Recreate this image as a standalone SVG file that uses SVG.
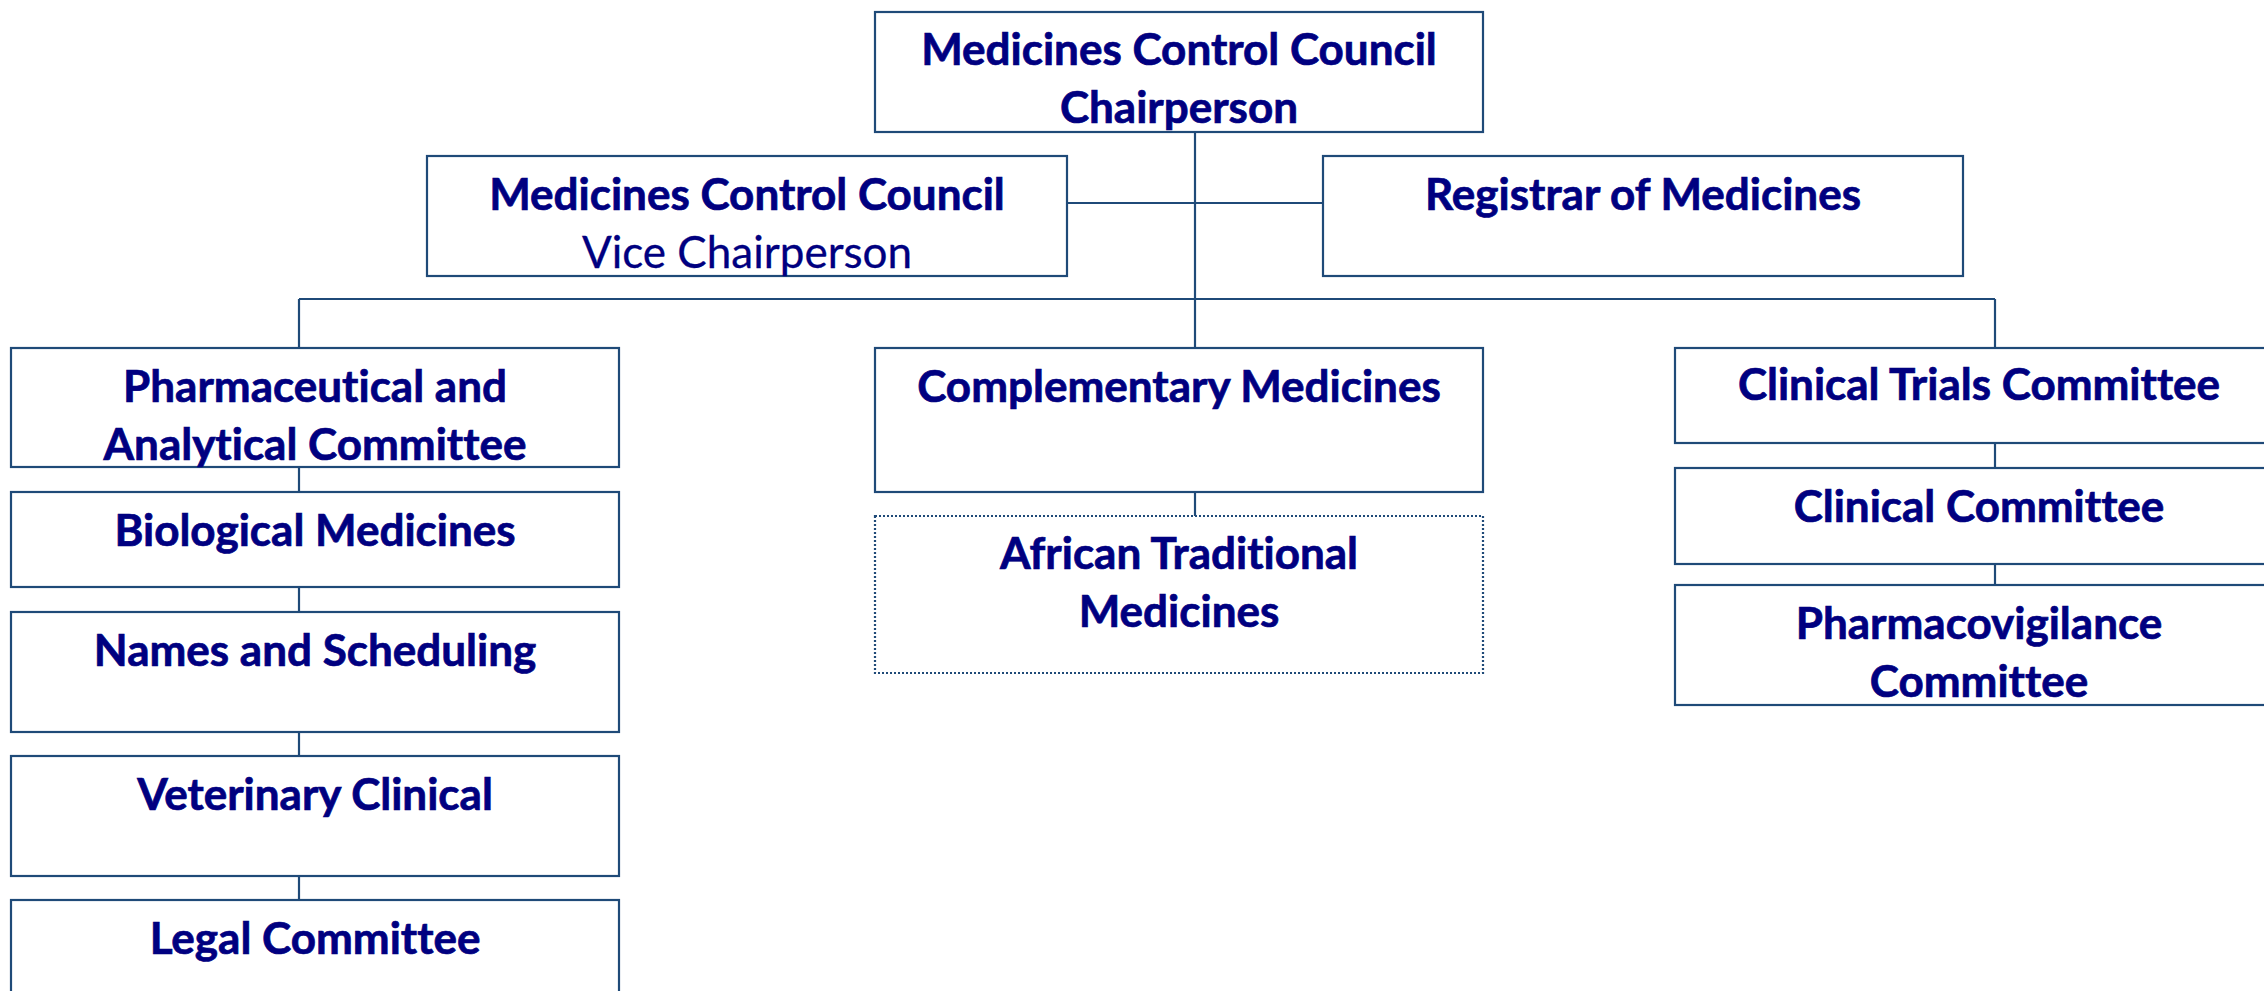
<svg xmlns="http://www.w3.org/2000/svg" width="2264" height="991" viewBox="0 0 2264 991">
<style>
.box{fill:#ffffff;stroke:#1f4a78;stroke-width:2.2}
.dot{fill:#ffffff;stroke:#1f4a78;stroke-width:2.2;stroke-dasharray:2 2}
.ln{stroke:#1f4a78;stroke-width:2.2;fill:none}
.t{font-family:Lato,"Open Sans","Liberation Sans",sans-serif;font-weight:bold;font-size:44px;fill:#000080;stroke:#000080;stroke-width:0.7;text-anchor:middle;font-variant-ligatures:none}
.r{font-weight:normal;stroke-width:0.3}
</style>
<rect width="2264" height="991" fill="#ffffff"/>
<g id="connectors">
<line class="ln" x1="1195" y1="132" x2="1195" y2="348"/>
<line class="ln" x1="1067" y1="203" x2="1323" y2="203"/>
<line class="ln" x1="299" y1="299" x2="1995" y2="299"/>
<line class="ln" x1="299" y1="299" x2="299" y2="348"/>
<line class="ln" x1="1995" y1="299" x2="1995" y2="348"/>
<line class="ln" x1="299" y1="467" x2="299" y2="492"/>
<line class="ln" x1="299" y1="587" x2="299" y2="612"/>
<line class="ln" x1="299" y1="732" x2="299" y2="756"/>
<line class="ln" x1="299" y1="876" x2="299" y2="900"/>
<line class="ln" x1="1195" y1="492" x2="1195" y2="516"/>
<line class="ln" x1="1995" y1="443" x2="1995" y2="468"/>
<line class="ln" x1="1995" y1="564" x2="1995" y2="585"/>
</g>
<g id="chair">
<rect class="box" x="875" y="12" width="608" height="120"/>
<text class="t" x="1179" y="65">Medicines Control Council</text>
<text class="t" x="1179" y="123">Chairperson</text>
</g>
<g id="vice">
<rect class="box" x="427" y="156" width="640" height="120"/>
<text class="t" x="747" y="210">Medicines Control Council</text>
<text class="t r" x="747" y="268">Vice Chairperson</text>
</g>
<g id="registrar">
<rect class="box" x="1323" y="156" width="640" height="120"/>
<text class="t" x="1643" y="210">Registrar of Medicines</text>
</g>
<g id="pharma">
<rect class="box" x="11" y="348" width="608" height="119"/>
<text class="t" x="315" y="402">Pharmaceutical and</text>
<text class="t" x="315" y="460">Analytical Committee</text>
</g>
<g id="bio">
<rect class="box" x="11" y="492" width="608" height="95"/>
<text class="t" x="315" y="546">Biological Medicines</text>
</g>
<g id="names">
<rect class="box" x="11" y="612" width="608" height="120"/>
<text class="t" x="315" y="666">Names and Scheduling</text>
</g>
<g id="vet">
<rect class="box" x="11" y="756" width="608" height="120"/>
<text class="t" x="315" y="810">Veterinary Clinical</text>
</g>
<g id="legal">
<rect class="box" x="11" y="900" width="608" height="120"/>
<text class="t" x="315" y="954">Legal Committee</text>
</g>
<g id="complementary">
<rect class="box" x="875" y="348" width="608" height="144"/>
<text class="t" x="1179" y="402">Complementary Medicines</text>
</g>
<g id="african">
<rect class="dot" x="875" y="516" width="608" height="157"/>
<text class="t" x="1179" y="569">African Traditional</text>
<text class="t" x="1179" y="627">Medicines</text>
</g>
<g id="trials">
<rect class="box" x="1675" y="348" width="608" height="95"/>
<text class="t" x="1979" y="400">Clinical Trials Committee</text>
</g>
<g id="clinical">
<rect class="box" x="1675" y="468" width="608" height="96"/>
<text class="t" x="1979" y="522">Clinical Committee</text>
</g>
<g id="pv">
<rect class="box" x="1675" y="585" width="608" height="120"/>
<text class="t" x="1979" y="639">Pharmacovigilance</text>
<text class="t" x="1979" y="697">Committee</text>
</g>
</svg>
